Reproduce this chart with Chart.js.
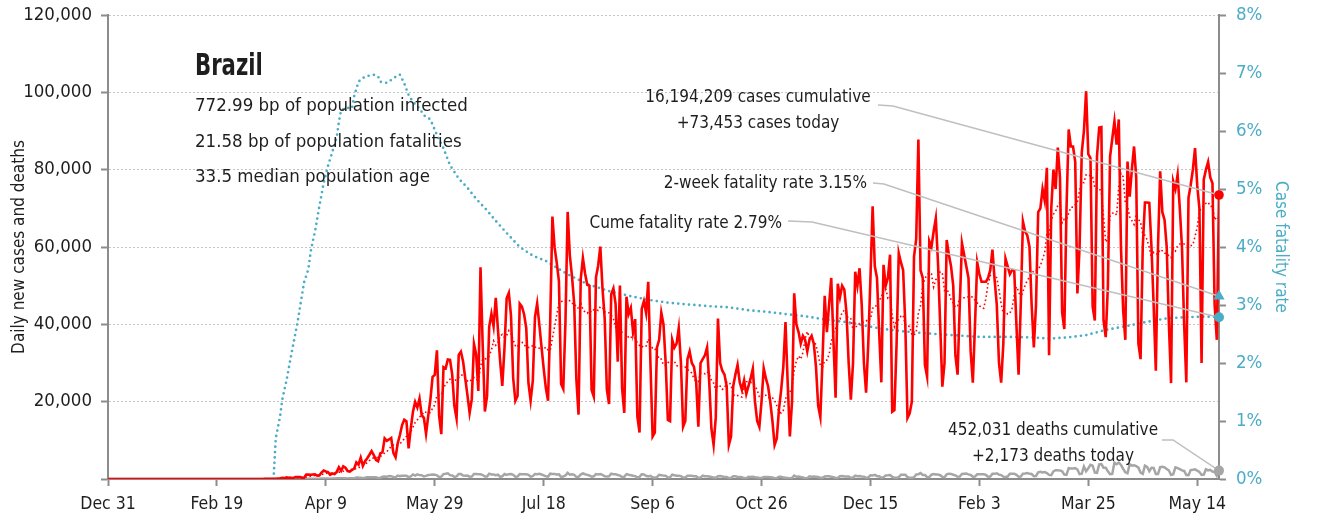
<!DOCTYPE html>
<html>
<head>
<meta charset="utf-8">
<script src="https://cdn.jsdelivr.net/npm/chart.js@4/dist/chart.umd.min.js"></script>
<style>
  html, body { margin: 0; padding: 0; background: #fff; }
  #wrap { width: 1320px; height: 520px; }
</style>
</head>
<body>
<div id="wrap"><canvas id="chart" width="1320" height="520"></canvas></div>
<script>
// Day 0 = Dec 31 2019, one value per day up to May 24 2021 (day 510)
const tickDays = [0, 50, 100, 150, 200, 250, 300, 350, 400, 450, 500];
const tickLabels = ["Dec 31", "Feb 19", "Apr 9", "May 29", "Jul 18", "Sep 6", "Oct 26", "Dec 15", "Feb 3", "Mar 25", "May 14"];

// new cases per day
const cases = [
  0, 0, 0, 0, 0, 0, 0, 0, 0, 0, 0, 0, 0, 0, 0, 0, 0, 0, 0, 0, 0, 0, 0, 0, 0, 0, 0,
  0, 0, 0, 0, 0, 0, 0, 0, 0, 0, 0, 0, 0, 0, 0, 0, 0, 0, 0, 0, 0, 0, 0, 0, 0, 0, 0,
  0, 0, 0, 1, 0, 0, 1,
  0, 0, 0, 0, 1, 5, 5,
  6, 6, 9, 18, 25, 21, 23,
  79, 34, 57, 137, 193, 283, 224,
  418, 345, 310, 232, 482, 502, 487,
  352, 323, 1138, 1119, 1074, 1146, 1222,
  852, 926, 1661, 2210, 1930, 1781, 1089,
  1442, 1261, 1832, 3058, 2105, 3257, 2917,
  2055, 1927, 2336, 2678, 4279, 3735, 5514,
  3379, 4613, 5385, 6276, 7218, 6209, 4970,
  4588, 6633, 6935, 10503, 9888, 10222, 10611,
  6760, 5632, 9258, 11385, 13944, 15305, 14919,
  7938, 13140, 17408, 19951, 18508, 20803, 16508,
  15813, 11687, 16324, 20599, 26417, 26928, 33274,
  16409, 11598, 28936, 28633, 30925, 30830, 27075,
  18912, 15654, 32091, 32913, 30412, 25982, 21704,
  17110, 20647, 34918, 32188, 22765, 54771, 34666,
  17459, 21432, 39436, 42725, 39483, 46860, 38693,
  30476, 24052, 33846, 46712, 48105, 42223, 26051,
  20229, 21486, 45305, 44571, 42619, 39023, 24831,
  20286, 25364, 41857, 45403, 39924, 34177, 28532,
  23529, 20257, 41008, 67860, 59961, 55891, 51147,
  24578, 23284, 40816, 69074, 57837, 52383, 45392,
  25800, 16641, 51603, 57152, 53139, 50230, 49970,
  23010, 21294, 52160, 55155, 60091, 49298, 41576,
  23101, 19373, 47784, 49298, 45323, 30355, 50032,
  23421, 17078, 47134, 42659, 44235, 38052, 41350,
  16158, 12000, 44000, 46000, 43000, 51000, 30000,
  11000, 12000, 34000, 36000, 43000, 40000, 30000,
  15300, 15000, 36000, 34000, 35000, 39000, 30000,
  13500, 15000, 31000, 33000, 30000, 29000, 25000,
  13500, 30000, 31000, 32000, 34000, 25000, 13000,
  8800, 16000, 41500, 30000, 28000, 27000, 24000,
  8800, 11000, 24000, 27000, 29500, 25000, 23000,
  25500, 22000, 24000, 26000, 28500, 20000, 15000,
  13500, 20000, 28600, 26000, 24000, 20000, 15000,
  8800, 10500, 18000, 23000, 29000, 40600, 25000,
  11000, 20000, 48000, 40000, 38000, 35000, 37000,
  36000, 33000, 36000, 37000, 35000, 29000, 19000,
  16000, 31000, 47400, 38000, 45000, 52000, 36000,
  21000, 50500, 47000, 50000, 49000, 43000, 30000,
  20500, 30000, 53600, 50000, 54500, 45000, 30000,
  22300, 35000, 52000, 70500, 55000, 52000, 38000,
  25000, 55400, 50000, 52000, 58000, 17400, 17800,
  35000, 58400, 56000, 54000, 40000, 15800, 17000,
  20000, 57500, 62000, 87800, 54000, 52000, 29500,
  26500, 61500, 60000, 64000, 67400, 56000, 40000,
  23900, 30000, 61800, 58000, 55000, 50000, 32000,
  27000, 45000, 61000, 58000, 55000, 52000, 33000,
  24900, 40000, 56000, 53000, 51000, 51000, 51000,
  52000, 54000, 59300, 51500, 45000, 30000, 24900,
  35000, 57000, 55000, 53000, 54000, 54000, 40000,
  27000, 45000, 66600, 64000, 63000, 60000, 45000,
  34000, 45000, 69000, 70000, 75000, 72000, 80500,
  32000, 70000, 80000, 75000, 85700, 78000, 43000,
  38800, 70000, 90400, 86000, 86000, 82000, 48000,
  60000, 84400, 90000, 100300, 84000, 83000, 44600,
  41000, 83500, 90900, 91000, 41000, 36700, 50000,
  83400, 88000, 92500, 86500, 93000, 60000, 43700,
  36000, 82100, 73000, 80000, 86000, 78000, 35000,
  31000, 60000, 71500, 71500, 71400, 60000, 45000,
  28000, 60000, 79600, 69000, 67000, 60000, 40000,
  24800, 77000, 75000, 78700, 70000, 60000, 40000,
  25000, 72700, 76000, 80000, 85600, 76000, 70000,
  30000, 77400, 80000, 82000, 78000, 76500, 45000,
  36000, 73453
];

// new deaths per day
const deaths = [
  0, 0, 0, 0, 0, 0, 0, 0, 0, 0, 0, 0, 0, 0, 0, 0, 0, 0, 0, 0, 0, 0, 0, 0, 0, 0, 0,
  0, 0, 0, 0, 0, 0, 0, 0, 0, 0, 0, 0, 0, 0, 0, 0, 0, 0, 0, 0, 0, 0, 0, 0, 0, 0, 0,
  0, 0, 0, 0, 0, 0, 0,
  0, 0, 0, 0, 0, 0, 0,
  0, 0, 0, 0, 0, 0, 0,
  0, 0, 1, 2, 4, 4, 7,
  7, 9, 12, 11, 20, 15, 19,
  25, 23, 42, 39, 84, 35, 72,
  55, 67, 114, 133, 141, 115, 68,
  99, 105, 204, 204, 188, 217, 206,
  113, 166, 165, 154, 407, 357, 346,
  189, 338, 474, 449, 435, 428, 421,
  275, 296, 600, 615, 610, 751, 730,
  496, 396, 881, 749, 844, 824, 816,
  485, 674, 1179, 888, 1188, 1001, 965,
  653, 807, 1039, 1086, 1156, 1124, 956,
  480, 623, 1262, 1349, 1473, 1005, 904,
  525, 679, 1274, 1272, 909, 843, 892,
  612, 627, 1282, 1269, 1238, 1206, 1022,
  641, 654, 1374, 1185, 1141, 990, 1109,
  552, 692, 1280, 1038, 1252, 1290, 1091,
  602, 620, 1254, 1223, 1220, 1214, 1071,
  631, 733, 1300, 1233, 1322, 1163, 921,
  716, 632, 1367, 1284, 1311, 1156, 1211,
  555, 614, 921, 1595, 1129, 1212, 1088,
  541, 561, 1154, 1437, 1226, 1060, 905,
  572, 703, 1274, 1175, 1262, 1060, 709,
  620, 684, 1352, 1212, 1204, 1054, 892,
  494, 565, 1271, 1085, 984, 855, 758,
  366, 553, 1215, 1184, 834, 682, 814,
  447, 310, 476, 1075, 983, 874, 821,
  415, 455, 1113, 968, 829, 857, 739,
  363, 377, 836, 869, 831, 729, 691,
  335, 366, 863, 729, 728, 650, 524,
  363, 299, 734, 754, 647, 541, 529,
  240, 281, 703, 734, 535, 495, 461,
  230, 201, 566, 497, 571, 432, 397,
  271, 231, 505, 510, 509, 451, 382,
  190, 231, 554, 582, 370, 346, 263,
  126, 290, 908, 566, 619, 498, 421,
  212, 216, 676, 591, 629, 588, 505,
  300, 302, 630, 697, 695, 598, 490,
  274, 324, 697, 755, 651, 672, 653,
  313, 376, 849, 695, 780, 663, 619,
  279, 422, 964, 936, 1092, 738, 716,
  327, 426, 936, 964, 1012, 561, 344,
  311, 490, 1105, 1072, 1074, 462, 314,
  293, 469, 1171, 1242, 1524, 1035, 1050,
  469, 483, 1110, 1274, 1151, 1151, 976,
  551, 452, 1183, 1382, 1316, 1096, 931,
  592, 627, 1283, 1340, 1386, 1206, 1050,
  595, 637, 1209, 1254, 1232, 1239, 1051,
  579, 645, 1350, 1330, 1452, 1127, 1012,
  603, 527, 640, 1340, 1367, 1386, 1078,
  595, 639, 1386, 1428, 1541, 1337, 1275,
  721, 778, 1726, 1840, 1699, 1800, 1555,
  1054, 987, 1972, 2286, 2233, 2216, 1997,
  1138, 1057, 2798, 2736, 2724, 2815, 2438,
  1290, 1383, 3251, 2009, 2777, 3650, 3438,
  1660, 1607, 3780, 3869, 2922, 2922, 1987,
  1240, 1319, 4211, 3829, 4249, 3647, 2616,
  1738, 1480, 3808, 3459, 3560, 3305, 2929,
  1657, 1347, 3472, 3157, 2027, 2914, 2865,
  1305, 1293, 3093, 3163, 3001, 2595, 2202,
  1024, 1232, 3025, 2811, 2550, 2216, 2087,
  1024, 1003, 2311, 2383, 2494, 2164, 1841,
  1036, 1142, 2517, 2224, 2383, 1914, 1803,
  860, 2173
];

// cumulative case fatality rate, % (sampled days)
const cfrDays = [76, 77, 79, 80, 82, 84, 87, 90, 92, 93, 94, 95, 97, 99, 101, 103, 105, 106, 107, 110,
  112, 113, 115, 118, 122, 124, 125, 128, 130, 133, 134, 136, 138, 140, 143, 145, 148, 151, 154, 157,
  161, 165, 169, 174, 178, 184, 189, 195, 201, 207, 211, 220, 230, 239, 248, 257, 266, 276, 285, 294,
  303, 312, 321, 331, 340, 348, 355, 364, 376, 388, 400, 413, 425, 432, 440, 449, 458, 468, 477, 486,
  495, 504, 510];
const cfrValues = [0, 0.7, 1.08, 1.37, 1.71, 2.12, 2.7, 3.39, 3.62, 3.91, 4.1, 4.26, 4.7, 5.1, 5.4, 5.64, 5.9, 6.16, 6.36, 6.4,
  6.39, 6.6, 6.85, 6.94, 6.97, 6.94, 6.85, 6.83, 6.88, 6.96, 6.97, 6.82, 6.62, 6.5, 6.39, 6.27, 6.2, 5.93, 5.7, 5.41,
  5.18, 5.02, 4.83, 4.63, 4.45, 4.2, 4.0, 3.85, 3.76, 3.62, 3.53, 3.36, 3.24, 3.16, 3.09, 3.04, 3.01, 2.98, 2.96, 2.91,
  2.88, 2.84, 2.8, 2.74, 2.7, 2.64, 2.59, 2.55, 2.51, 2.48, 2.45, 2.45, 2.44, 2.42, 2.44, 2.48, 2.57, 2.64, 2.71, 2.77,
  2.79, 2.8, 2.79];

const lastDay = 510;
const casesToday = 73453;
const deathsToday = 2173;
const cumeRate = 2.79;
const twoWeekRate = 3.15;

const FONT = "'DejaVu Sans Condensed', 'DejaVu Sans', sans-serif";
const INK = '#1e1e1e';
const AXIS = '#8c8c8c';
const BLUE = '#4bacc6';
const RED = '#ff0000';
const GREY = '#a6a6a6';

// trailing 7-day mean of daily cases
const avg7 = cases.map((_, i) => {
  const w = cases.slice(Math.max(0, i - 6), i + 1);
  return w.reduce((a, b) => a + b, 0) / w.length;
});

const pts = arr => arr.map((v, i) => ({ x: i, y: v }));

// pin the plot area: fixed side widths, and the top edge at 15px
const fitSide = width => s => {
  s.width = width;
  s.paddingTop = 15;
  s.paddingBottom = 0;
};

// leader lines go under the end markers, text goes on top of everything
const notes = {
  id: 'notes',
  afterDatasetDraw(chart, args) {
    if (args.index !== 4) return;
    const { ctx, scales: { x, y, y2 } } = chart;
    const ex = x.getPixelForValue(lastDay);
    ctx.save();
    ctx.strokeStyle = '#bfbfbf';
    ctx.lineWidth = 1.5;
    const leader = (x0, y0, x1, y1, py) => {
      ctx.beginPath();
      ctx.moveTo(x0, y0);
      ctx.lineTo(x1, y1);
      ctx.lineTo(ex, py);
      ctx.stroke();
    };
    leader(878, 105, 893, 106, y.getPixelForValue(casesToday));
    leader(873, 183, 884, 184, y2.getPixelForValue(twoWeekRate));
    leader(788, 221, 812, 222, y2.getPixelForValue(cumeRate));
    leader(1162, 440, 1173, 440, y.getPixelForValue(deathsToday));
    ctx.restore();
  },
  afterDatasetsDraw(chart) {
    const { ctx } = chart;
    ctx.save();
    ctx.fillStyle = INK;
    ctx.textAlign = 'left';
    ctx.textBaseline = 'alphabetic';

    // narrow bold heading
    ctx.save();
    ctx.translate(195, 75);
    ctx.scale(0.76, 1);
    ctx.font = 'bold 31px ' + FONT;
    ctx.fillText('Brazil', 0, 0);
    ctx.restore();

    ctx.font = '18.5px ' + FONT;
    ctx.fillText('772.99 bp of population infected', 195, 111);
    ctx.fillText('21.58 bp of population fatalities', 195, 146.5);
    ctx.fillText('33.5 median population age', 195, 182);

    ctx.font = '17px ' + FONT;
    ctx.textAlign = 'center';
    ctx.fillText('16,194,209 cases cumulative', 758, 102);
    ctx.fillText('+73,453 cases today', 758, 128);
    ctx.fillText('452,031 deaths cumulative', 1053, 435);
    ctx.fillText('+2,173 deaths today', 1053, 461);
    ctx.textAlign = 'right';
    ctx.fillText('2-week fatality rate 3.15%', 867, 188);
    ctx.fillText('Cume fatality rate 2.79%', 782, 228);
    ctx.restore();
  }
};

new Chart(document.getElementById('chart'), {
  type: 'line',
  data: {
    datasets: [
      { data: [{ x: lastDay, y: casesToday }], yAxisID: 'y', showLine: false, clip: false,
        pointRadius: 4.8, pointBackgroundColor: RED, pointBorderWidth: 0 },
      { data: [{ x: lastDay, y: twoWeekRate }], yAxisID: 'y2', showLine: false, clip: false,
        pointStyle: 'triangle', pointRadius: 6.5, pointBackgroundColor: BLUE, pointBorderWidth: 0 },
      { data: [{ x: lastDay, y: cumeRate }], yAxisID: 'y2', showLine: false, clip: false,
        pointRadius: 5, pointBackgroundColor: BLUE, pointBorderWidth: 0 },
      { data: [{ x: lastDay, y: deathsToday }], yAxisID: 'y', showLine: false, clip: false,
        pointRadius: 5, pointBackgroundColor: GREY, pointBorderWidth: 0 },
      { data: pts(cases), yAxisID: 'y', borderColor: RED, borderWidth: 2.6 },
      { data: pts(avg7), yAxisID: 'y', borderColor: RED, borderWidth: 1.6, borderDash: [1.6, 2.6] },
      { data: cfrDays.map((d, i) => ({ x: d, y: cfrValues[i] })), yAxisID: 'y2',
        borderColor: BLUE, borderWidth: 2.7, borderDash: [0, 5.4], borderCapStyle: 'round' },
      { data: pts(deaths), yAxisID: 'y', borderColor: GREY, borderWidth: 2.5 }
    ]
  },
  options: {
    responsive: false,
    animation: false,
    layout: { padding: 0 },
    elements: { point: { radius: 0 }, line: { tension: 0, fill: false } },
    plugins: { legend: { display: false }, tooltip: { enabled: false } },
    scales: {
      x: {
        type: 'linear', min: 0, max: lastDay,
        afterBuildTicks: s => { s.ticks = tickDays.map(v => ({ value: v })); },
        afterFit: s => { s.height = 41; },
        ticks: {
          autoSkip: false, maxRotation: 0, padding: 8, color: INK,
          font: { family: FONT, size: 17.5 },
          callback: (v, i) => tickLabels[i]
        },
        grid: { drawOnChartArea: false, tickLength: 7, tickWidth: 2, tickColor: AXIS },
        border: { color: AXIS, width: 2 }
      },
      y: {
        position: 'left', min: 0, max: 120000,
        afterFit: fitSide(108),
        ticks: {
          stepSize: 20000, padding: 9, color: INK,
          font: { family: FONT, size: 18.5 },
          callback: v => v === 0 ? '' : v.toLocaleString('en-US')
        },
        grid: { color: '#c4c4c4', lineWidth: 1, tickLength: 7, tickWidth: 2, tickColor: AXIS, tickBorderDash: [] },
        border: { color: AXIS, width: 2, dash: [2, 2] },
        title: { display: true, text: 'Daily new cases and deaths', color: INK,
          font: { family: FONT, size: 17 }, padding: { top: 9, bottom: 0 } }
      },
      y2: {
        position: 'right', min: 0, max: 8,
        afterFit: fitSide(101),
        ticks: {
          stepSize: 1, padding: 10, color: BLUE,
          font: { family: FONT, size: 18.5 },
          callback: v => v + '%'
        },
        grid: { drawOnChartArea: false, tickLength: 7, tickWidth: 2, tickColor: AXIS },
        border: { color: AXIS, width: 2 },
        title: { display: true, text: 'Case fatality rate', color: BLUE,
          font: { family: FONT, size: 17 }, padding: { top: 29, bottom: 0 } }
      }
    }
  },
  plugins: [notes]
});
</script>
</body>
</html>
